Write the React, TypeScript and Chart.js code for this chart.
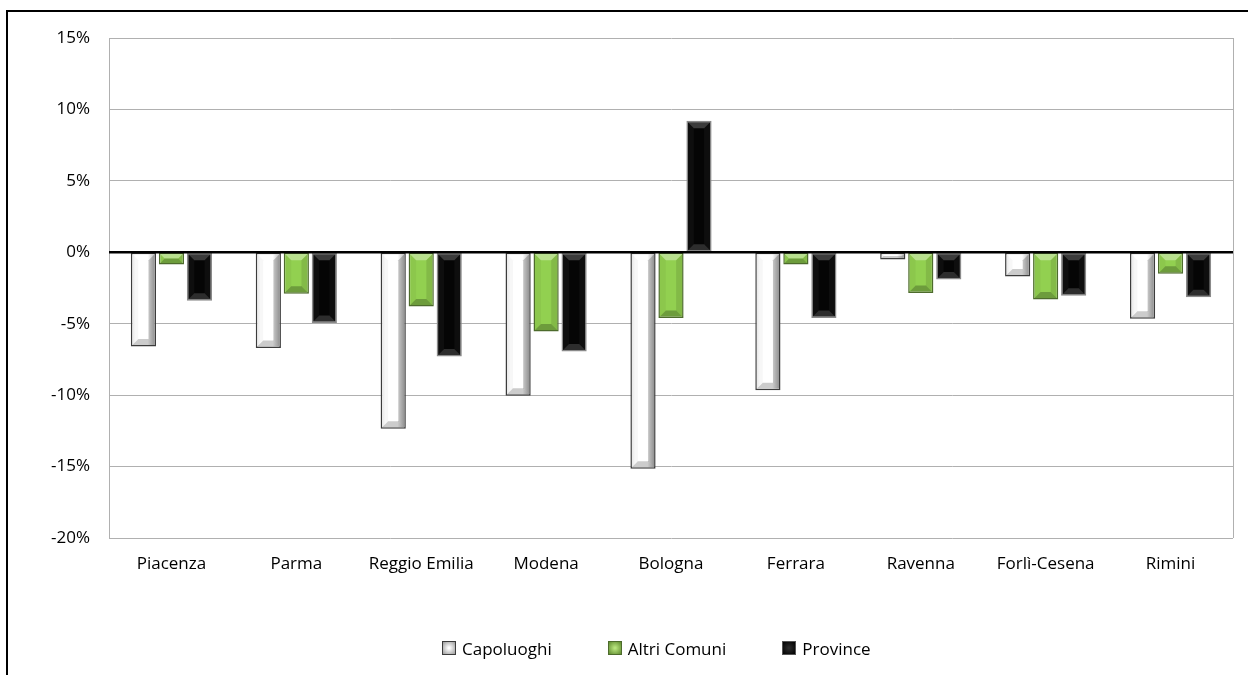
import React, { useEffect, useRef } from "react";
import { Chart, registerables } from "chart.js";

Chart.register(...registerables);

const categories = [
  "Piacenza",
  "Parma",
  "Reggio Emilia",
  "Modena",
  "Bologna",
  "Ferrara",
  "Ravenna",
  "Forlì-Cesena",
  "Rimini",
];
const seriesNames = ["Capoluoghi", "Altri Comuni", "Province"];
const capoluoghi = [-6.6, -6.7, -12.35, -10.05, -15.15, -9.65, -0.5, -1.7, -4.65];
const altriComuni = [-0.85, -2.9, -3.8, -5.55, -4.6, -0.85, -2.85, -3.3, -1.5];
const province = [-3.4, -4.95, -7.3, -6.95, 9.2, -4.6, -1.9, -3.05, -3.15];
const yTickValues = [-20, -15, -10, -5, 0, 5, 10, 15];

const FONT = "'Open Sans', sans-serif";

const fills = ["#ffffff", "#92d050", "#050505"];
const borders = ["#3c3c3c", "#4d6b2c", "#8a8a8a"];
const bevels = [
  { top: "rgba(255,255,255,0)", left: "rgba(0,0,0,0.03)", right: "rgba(0,0,0,0.2)", bottom: "rgba(0,0,0,0.2)" },
  { top: "rgba(255,255,255,0.35)", left: "rgba(0,0,0,0.04)", right: "rgba(0,0,0,0.1)", bottom: "rgba(0,0,0,0.25)" },
  { top: "rgba(255,255,255,0.22)", left: "rgba(255,255,255,0.04)", right: "rgba(255,255,255,0.04)", bottom: "rgba(255,255,255,0.16)" },
];

const bevelPlugin = {
  id: "bevelPlugin",
  afterDatasetsDraw(chart: any) {
    const ctx = chart.ctx as CanvasRenderingContext2D;
    chart.data.datasets.forEach((_ds: any, i: number) => {
      const meta = chart.getDatasetMeta(i);
      const st = bevels[i];
      meta.data.forEach((el: any) => {
        const { x, y, base, width } = el.getProps(["x", "y", "base", "width"], true);
        const L = x - width / 2 + 1.5;
        const R = x + width / 2 - 1.5;
        const T = Math.min(y, base) + 1.5;
        const B = Math.max(y, base) - 1.5;
        const h = B - T;
        if (h <= 0 || R - L <= 0) return;
        const b = Math.min(6, (R - L) / 2, h / 2);
        const poly = (pts: number[][], color: string | CanvasGradient) => {
          ctx.beginPath();
          ctx.moveTo(pts[0][0], pts[0][1]);
          for (let k = 1; k < pts.length; k++) ctx.lineTo(pts[k][0], pts[k][1]);
          ctx.closePath();
          ctx.fillStyle = color;
          ctx.fill();
        };
        ctx.save();
        if (i === 0) {
          // soft horizontal shading for the white bars
          const g = ctx.createLinearGradient(L, 0, R, 0);
          g.addColorStop(0, "rgba(0,0,0,0.06)");
          g.addColorStop(0.15, "rgba(0,0,0,0)");
          g.addColorStop(0.7, "rgba(0,0,0,0)");
          g.addColorStop(1, "rgba(0,0,0,0.28)");
          ctx.fillStyle = g;
          ctx.fillRect(L, T, R - L, h);
        }
        poly([[L, T], [R, T], [R - b, T + b], [L + b, T + b]], st.top);
        poly([[L, T], [L + b, T + b], [L + b, B - b], [L, B]], st.left);
        poly([[R, T], [R, B], [R - b, B - b], [R - b, T + b]], st.right);
        poly([[L, B], [R, B], [R - b, B - b], [L + b, B - b]], st.bottom);
        ctx.restore();
      });
    });
    const area = chart.chartArea;
    const yScale = chart.scales.y;
    const y0 = yScale.getPixelForValue(0);
    ctx.save();
    ctx.strokeStyle = "#000";
    ctx.lineWidth = 2.5;
    ctx.beginPath();
    ctx.moveTo(area.left, y0);
    ctx.lineTo(area.right, y0);
    ctx.stroke();
    ctx.strokeStyle = "#b0b0b0";
    ctx.lineWidth = 1;
    ctx.beginPath();
    ctx.moveTo(Math.round(area.right) + 0.5, area.top);
    ctx.lineTo(Math.round(area.right) + 0.5, area.bottom);
    ctx.stroke();
    ctx.restore();
  },
  afterDraw(chart: any) {
    const ctx = chart.ctx as CanvasRenderingContext2D;
    ctx.save();
    ctx.strokeStyle = "#000";
    ctx.lineWidth = 2;
    ctx.strokeRect(7, 11, 1400, 1000);
    ctx.restore();
  },
};

const legendBoxStyles: React.CSSProperties[] = [
  { background: "radial-gradient(circle, #ffffff 10%, #9a9a9a 100%)", border: "1px solid #3c3c3c" },
  { background: "radial-gradient(circle, #b6e27c 10%, #5e8a2e 100%)", border: "1px solid #4d6b2c" },
  { background: "radial-gradient(circle, #2a2a2a 10%, #000 100%)", border: "1px solid #555" },
];

export default function App() {
  const canvasRef = useRef<HTMLCanvasElement | null>(null);

  useEffect(() => {
    document.body.style.margin = "0";
    document.body.style.overflow = "hidden";
    const canvas = canvasRef.current;
    if (!canvas) return;
    const dataSets = [capoluoghi, altriComuni, province];
    const chart = new Chart(canvas, {
      type: "bar",
      data: {
        labels: categories,
        datasets: dataSets.map((d, i) => ({
          label: seriesNames[i],
          data: d,
          backgroundColor: fills[i],
          borderColor: borders[i],
          borderWidth: 1.5,
          borderSkipped: false,
          categoryPercentage: 0.6725,
          barPercentage: 0.9,
        })),
      },
      options: {
        responsive: false,
        animation: false,
        layout: { padding: { left: 0, right: 15, top: 38, bottom: 0 } },
        plugins: {
          legend: { display: false },
          tooltip: { enabled: false },
          title: { display: false },
        },
        scales: {
          x: {
            grid: { display: false },
            border: { display: false },
            ticks: {
              color: "#000",
              font: { family: FONT, size: 17 },
              padding: 8,
              maxRotation: 0,
              autoSkip: false,
            },
            afterFit: (s: any) => {
              s.height = 137;
            },
          },
          y: {
            min: -20,
            max: 15,
            afterBuildTicks: (s: any) => {
              s.ticks = yTickValues.map((v) => ({ value: v }));
            },
            grid: { color: "#b0b0b0", lineWidth: 1, drawTicks: false },
            border: { display: true, color: "#b0b0b0", width: 1 },
            ticks: {
              color: "#000",
              font: { family: FONT, size: 17 },
              padding: 19,
              callback: (v: any) => `${v}%`,
            },
            afterFit: (s: any) => {
              s.width = 109;
            },
          },
        },
      },
      plugins: [bevelPlugin],
    });
    return () => chart.destroy();
  }, []);

  return (
    <div style={{ position: "relative", width: 1248, height: 675, overflow: "hidden" }}>
      <canvas ref={canvasRef} width={1248} height={675} style={{ display: "block" }} />
      <div
        style={{
          position: "absolute",
          left: 442,
          top: 636,
          height: 24,
          display: "flex",
          alignItems: "center",
          gap: 56,
          fontFamily: FONT,
          fontSize: 17,
          color: "#000",
          whiteSpace: "nowrap",
        }}
      >
        {seriesNames.map((n, i) => (
          <div key={n} style={{ display: "flex", alignItems: "center" }}>
            <span
              style={{
                display: "inline-block",
                width: 14,
                height: 14,
                boxSizing: "border-box",
                marginRight: 6,
                ...legendBoxStyles[i],
              }}
            />
            <span>{n}</span>
          </div>
        ))}
      </div>
    </div>
  );
}
